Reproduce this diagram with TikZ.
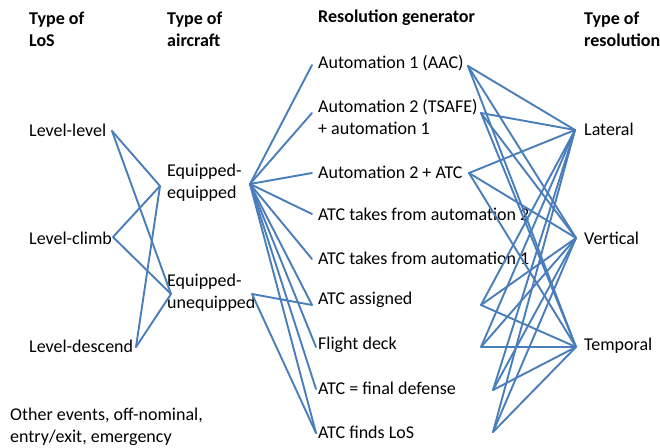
\documentclass[tikz,border=0pt]{standalone}
\usepackage{fontspec}
\setmainfont{Carlito}
\definecolor{lineblue}{RGB}{74,126,187}
\begin{document}
\begin{tikzpicture}[x=1pt,y=-1pt,
    every node/.style={anchor=west,inner sep=0pt,align=left,font=\fontsize{18}{22}\selectfont},
    link/.style={draw=lineblue,line width=1.9pt,line cap=round}]
        \useasboundingbox(0,0)rectangle(660,447);
        % column heads
        \node(hlos)at(29,29){\textbf{Type of}\\\textbf{LoS}};
        \node(hac)at(167,29){\textbf{Type of}\\\textbf{aircraft}};
        \node(hgen)at(318,18){\textbf{Resolution generator}};
        \node(hres)at(584,29){\textbf{Type of}\\\textbf{resolution}};
        % type of LoS
        \node(ll)at(29,130){Level-level};
        \node(lc)at(29,238){Level-climb};
        \node(ld)at(29,346){Level-descend};
        \node(oth)at(10,427){Other events, off-nominal,\\entry/exit, emergency};
        % type of aircraft
        \node(ee)at(167,183){Equipped-\\equipped};
        \node(eu)at(167,293){Equipped-\\unequipped};
        % resolution generator
        \node(g1)at(318,63){Automation 1 (AAC)};
        \node(g2)at(318,117){Automation 2 (TSAFE)\\+ automation 1};
        \node(g3)at(318,172){Automation 2 + ATC};
        \node(g4)at(318,214){ATC takes from automation 2};
        \node(g5)at(318,258){ATC takes from automation 1};
        \node(g6)at(318,300){ATC assigned};
        \node(g7)at(318,345){Flight deck};
        \node(g8)at(318,388){ATC = final defense};
        \node(g9)at(318,432){ATC finds LoS};
        % type of resolution
        \node(lat)at(584,129){Lateral};
        \node(ver)at(584,238){Vertical};
        \node(tem)at(584,346){Temporal};
        % ports
        \coordinate(llr)at(112,131);
        \coordinate(lcr)at(113,237);
        \coordinate(ldr)at(136,347);
        \coordinate(eel)at(160,186);
        \coordinate(eer)at(250,184);
        \coordinate(eul)at(171,294);
        \coordinate(eur)at(252,294);
        \coordinate(g1l)at(312,65);
        \coordinate(g2l)at(312,113);
        \coordinate(g3l)at(312,173);
        \coordinate(g4l)at(312,214);
        \coordinate(g5l)at(312,259);
        \coordinate(g6l)at(312,305);
        \coordinate(g7l)at(316,347);
        \coordinate(g8l)at(316,389);
        \coordinate(g9l)at(316,433);
        \coordinate(g1r)at(468,66);
        \coordinate(g2r)at(481,113);
        \coordinate(g3r)at(469,173);
        \coordinate(g6r)at(481,305);
        \coordinate(g7r)at(481,347);
        \coordinate(g8r)at(493,390);
        \coordinate(g9r)at(493,432);
        \coordinate(latl)at(575,130);
        \coordinate(verl)at(576,238);
        \coordinate(teml)at(576,347);
        % LoS to aircraft
        \draw[link](llr)--(eel);
        \draw[link](llr)--(eul);
        \draw[link](lcr)--(eel);
        \draw[link](lcr)--(eul);
        \draw[link](ldr)--(eel);
        \draw[link](ldr)--(eul);
        % aircraft to generator
        \draw[link](eer)--(g1l);
        \draw[link](eer)--(g2l);
        \draw[link](eer)--(g3l);
        \draw[link](eer)--(g4l);
        \draw[link](eer)--(g5l);
        \draw[link](eer)--(g6l);
        \draw[link](eer)--(g7l);
        \draw[link](eer)--(g8l);
        \draw[link](eer)--(g9l);
        \draw[link](eur)--(g6l);
        \draw[link](eur)--(g9l);
        % generator to resolution
        \draw[link](g1r)--(latl);
        \draw[link](g1r)--(verl);
        \draw[link](g1r)--(teml);
        \draw[link](g2r)--(latl);
        \draw[link](g2r)--(verl);
        \draw[link](g2r)--(teml);
        \draw[link](g3r)--(latl);
        \draw[link](g3r)--(verl);
        \draw[link](g3r)--(teml);
        \draw[link](g6r)--(latl);
        \draw[link](g6r)--(verl);
        \draw[link](g6r)--(teml);
        \draw[link](g7r)--(latl);
        \draw[link](g7r)--(verl);
        \draw[link](g7r)--(teml);
        \draw[link](g8r)--(latl);
        \draw[link](g8r)--(verl);
        \draw[link](g8r)--(teml);
        \draw[link](g9r)--(latl);
        \draw[link](g9r)--(verl);
        \draw[link](g9r)--(teml);
    \end{tikzpicture}
\end{document}
